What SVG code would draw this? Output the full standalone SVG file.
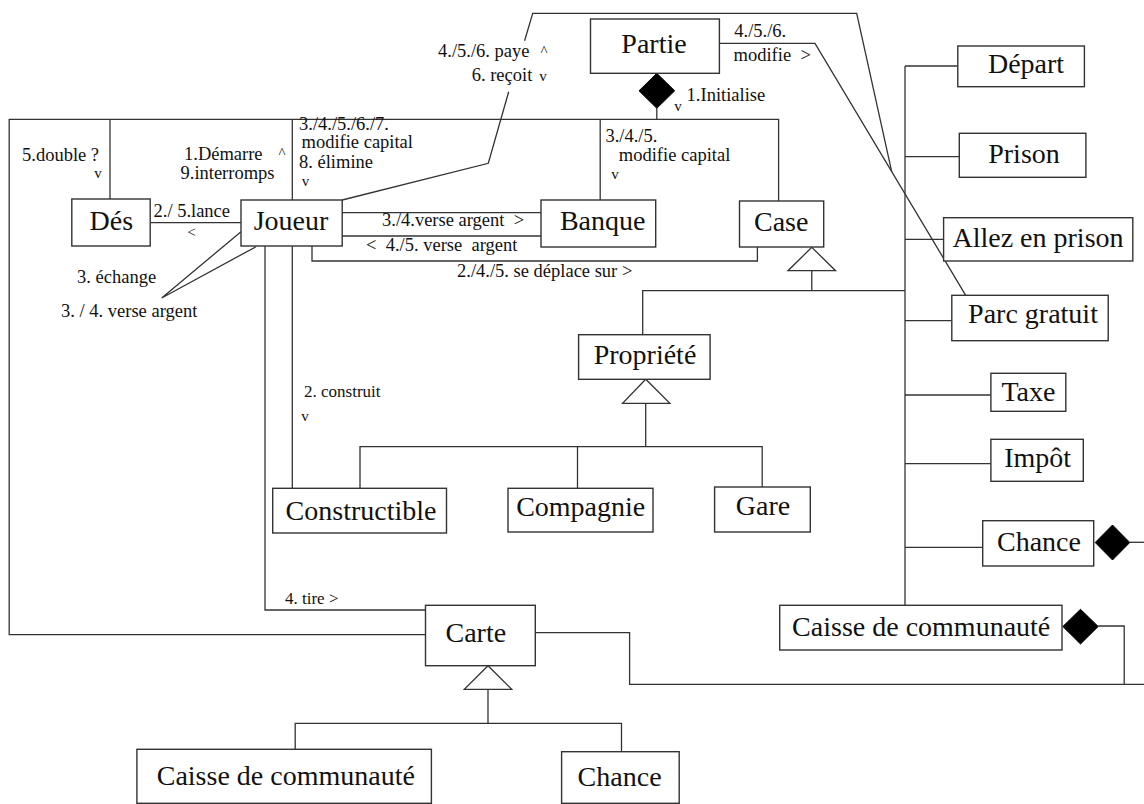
<svg xmlns="http://www.w3.org/2000/svg" width="1144" height="804" viewBox="0 0 1144 804">
<style>
  .box{fill:#fff;stroke:#333;stroke-width:1.4}
  .ln{fill:none;stroke:#333;stroke-width:1.3}
  .tri{fill:#fff;stroke:#333;stroke-width:1.3}
  .dia{fill:#000;stroke:#000;stroke-width:1}
  .nm{font-family:"Liberation Serif","Times New Roman",serif;font-size:28px;fill:#111;text-anchor:middle}
  .lb{font-family:"Liberation Serif","Times New Roman",serif;font-size:18.5px;fill:#111;white-space:pre}
  .ar{font-family:"Liberation Serif","Times New Roman",serif;font-size:15px;fill:#111;text-anchor:middle}
</style>
<rect width="1144" height="804" fill="#fff"/>

<g id="connectors">
  <!-- outer frame from Case around to Carte -->
  <polyline class="ln" points="778.6,201 778.6,119.3 9.2,119.3 9.2,634.7 425.5,634.7"/>
  <line class="ln" x1="110" y1="119.3" x2="110" y2="199"/>
  <line class="ln" x1="292.3" y1="119.3" x2="292.3" y2="200"/>
  <line class="ln" x1="600.2" y1="119.3" x2="600.2" y2="200"/>
  <line class="ln" x1="656.8" y1="108.3" x2="656.8" y2="119.3"/>
  <!-- Dés - Joueur -->
  <line class="ln" x1="150.2" y1="222.7" x2="241" y2="222.7"/>
  <!-- Joueur - Banque -->
  <line class="ln" x1="342.2" y1="212.7" x2="541" y2="212.7"/>
  <line class="ln" x1="342.2" y1="236" x2="541" y2="236"/>
  <!-- Joueur - Case -->
  <polyline class="ln" points="312,246 312,261 757.4,261 757.4,247"/>
  <!-- Joueur self (échange / verse argent) -->
  <polyline class="ln" points="241,231.7 161.7,298 256,246.7"/>
  <!-- Joueur - Constructible -->
  <line class="ln" x1="292.3" y1="246" x2="292.3" y2="488.3"/>
  <!-- Joueur - Carte -->
  <polyline class="ln" points="265,246 265,610 425.5,610"/>
  <!-- Joueur paye / reçoit -->
  <polyline class="ln" points="342.2,200 488.3,163.3 508.7,91.7"/>
  <polyline class="ln" points="524.6,40.7 532.7,13.3 856.7,13.3 891.7,171.7"/>
  <!-- Partie modifie -> Parc gratuit -->
  <polyline class="ln" points="719.4,43.3 815,43.3 965.7,295.3"/>
  <!-- Case generalization -->
  <line class="ln" x1="811.8" y1="270.7" x2="811.8" y2="290.7"/>
  <polyline class="ln" points="642.7,334.7 642.7,290.7 905,290.7"/>
  <polygon class="tri" points="811.8,247.3 788,270.7 835.6,270.7"/>
  <!-- right bus -->
  <line class="ln" x1="905" y1="66" x2="905" y2="605.3"/>
  <line class="ln" x1="905" y1="66" x2="957.8" y2="66"/>
  <line class="ln" x1="905" y1="156.7" x2="959.3" y2="156.7"/>
  <line class="ln" x1="905" y1="239.3" x2="943.6" y2="239.3"/>
  <line class="ln" x1="905" y1="320.7" x2="951.8" y2="320.7"/>
  <line class="ln" x1="905" y1="395" x2="990.9" y2="395"/>
  <line class="ln" x1="905" y1="463.7" x2="990.9" y2="463.7"/>
  <line class="ln" x1="905" y1="547.3" x2="982.7" y2="547.3"/>
  <!-- Propriété generalization -->
  <line class="ln" x1="645.7" y1="403.3" x2="645.7" y2="446.7"/>
  <polyline class="ln" points="360,488.3 360,446.7 762.2,446.7 762.2,487"/>
  <line class="ln" x1="577.5" y1="446.7" x2="577.5" y2="488.3"/>
  <polygon class="tri" points="645.7,379.3 622.6,403.3 669.9,403.3"/>
  <!-- Carte generalization -->
  <line class="ln" x1="488" y1="689.3" x2="488" y2="723.3"/>
  <polyline class="ln" points="295.2,749.3 295.2,723.3 621.5,723.3 621.5,751.7"/>
  <polygon class="tri" points="488,665.7 464.3,689.3 511.7,689.3"/>
  <!-- Carte to right composition -->
  <polyline class="ln" points="535.3,632.7 629.6,632.7 629.6,684.3 1144,684.3"/>
  <polyline class="ln" points="1098.2,626 1124.2,626 1124.2,684.3"/>
  <line class="ln" x1="1129.8" y1="542.3" x2="1144" y2="542.3"/>
  <!-- diamonds -->
  <polygon class="dia" points="656.8,73.3 674.7,90.8 656.8,108.3 639,90.8"/>
  <polygon class="dia" points="1095.2,542.5 1112.5,525 1129.8,542.5 1112.5,560"/>
  <polygon class="dia" points="1062.8,626.5 1080.5,609.3 1098.2,626.5 1080.5,644"/>

  <!-- association labels -->
  <text class="lb" x="22" y="161">5.double ?</text>
  <text class="ar" x="98" y="178">v</text>
  <text class="lb" x="184" y="160">1.Démarre</text>
  <text class="ar" x="282" y="158">^</text>
  <text class="lb" x="180.5" y="178.5">9.interromps</text>
  <text class="lb" x="299" y="129.5">3./4./5./6./7.</text>
  <text class="lb" x="301.5" y="148">modifie capital</text>
  <text class="lb" x="299" y="168">8. élimine</text>
  <text class="ar" x="305.6" y="186">v</text>
  <text class="lb" x="153.5" y="216.5">2./ 5.lance</text>
  <text class="ar" x="191.6" y="237">&lt;</text>
  <text class="lb" x="382" y="226">3./4.verse argent  &gt;</text>
  <text class="lb" x="366" y="250.5">&lt;  4./5. verse  argent</text>
  <text class="lb" x="457" y="276.5">2./4./5. se déplace sur &gt;</text>
  <text class="lb" x="77" y="283">3. échange</text>
  <text class="lb" x="61" y="317">3. / 4. verse argent</text>
  <text class="lb" x="438" y="57">4./5./6. paye</text>
  <text class="ar" x="544" y="56">^</text>
  <text class="lb" x="471.7" y="81">6. reçoit</text>
  <text class="ar" x="543" y="81">v</text>
  <text class="lb" x="686.6" y="101">1.Initialise</text>
  <text class="ar" x="678" y="111">v</text>
  <text class="lb" x="605.4" y="142">3./4./5.</text>
  <text class="lb" x="618.8" y="160.5">modifie capital</text>
  <text class="ar" x="615" y="179">v</text>
  <text class="lb" x="734.3" y="37.3">4./5./6.</text>
  <text class="lb" x="733.6" y="61">modifie  &gt;</text>
  <text class="lb" x="304" y="397" style="font-size:17px">2. construit</text>
  <text class="ar" x="305" y="421">v</text>
  <text class="lb" x="285" y="603.5" style="font-size:17px">4. tire &gt;</text>
</g>

<g id="partie"><rect class="box" x="590.5" y="19" width="128.9" height="54.3"/><text class="nm" x="654" y="53">Partie</text></g>
<g id="des"><rect class="box" x="71.8" y="199" width="78.4" height="47"/><text class="nm" x="111.3" y="230">Dés</text></g>
<g id="joueur"><rect class="box" x="241" y="200" width="101.2" height="46"/><text class="nm" x="291" y="230">Joueur</text></g>
<g id="banque"><rect class="box" x="541" y="200" width="114.7" height="47"/><text class="nm" x="602.7" y="229.5">Banque</text></g>
<g id="case"><rect class="box" x="739.5" y="201" width="84.2" height="46"/><text class="nm" x="781.2" y="230.5">Case</text></g>
<g id="depart"><rect class="box" x="957.8" y="46" width="126.6" height="40.7"/><text class="nm" x="1026" y="73">Départ</text></g>
<g id="prison"><rect class="box" x="959.3" y="133.3" width="126.6" height="44"/><text class="nm" x="1024" y="163">Prison</text></g>
<g id="allez-en-prison"><rect class="box" x="943.6" y="217.7" width="189.2" height="43.3"/><text class="nm" x="1038" y="247">Allez en prison</text></g>
<g id="parc-gratuit"><rect class="box" x="951.8" y="295.3" width="156.4" height="45.4"/><text class="nm" x="1033" y="323">Parc gratuit</text></g>
<g id="propriete"><rect class="box" x="578.6" y="334.7" width="131.5" height="44.6"/><text class="nm" x="645" y="363.5">Propriété</text></g>
<g id="taxe"><rect class="box" x="990.9" y="373.3" width="74.9" height="38"/><text class="nm" x="1028.4" y="400.5">Taxe</text></g>
<g id="impot"><rect class="box" x="990.9" y="439.3" width="92.4" height="42"/><text class="nm" x="1037.7" y="467">Impôt</text></g>
<g id="constructible"><rect class="box" x="272.7" y="488.3" width="173.8" height="44.7"/><text class="nm" x="361" y="519.5">Constructible</text></g>
<g id="compagnie"><rect class="box" x="508" y="488.3" width="145" height="43.7"/><text class="nm" x="580.7" y="515.5">Compagnie</text></g>
<g id="gare"><rect class="box" x="714.6" y="487" width="95.7" height="45"/><text class="nm" x="763" y="514.5">Gare</text></g>
<g id="chance-case"><rect class="box" x="982.7" y="520.7" width="111" height="45.3"/><text class="nm" x="1039" y="550.5">Chance</text></g>
<g id="caisse-case"><rect class="box" x="779.7" y="605.3" width="282.3" height="44.7"/><text class="nm" x="921.2" y="635.5">Caisse de communauté</text></g>
<g id="carte"><rect class="box" x="425.5" y="605.3" width="109.8" height="60.4"/><text class="nm" x="475.8" y="642">Carte</text></g>
<g id="caisse-carte"><rect class="box" x="136.9" y="749.3" width="294.5" height="54"/><text class="nm" x="285.8" y="784.5">Caisse de communauté</text></g>
<g id="chance-carte"><rect class="box" x="561.6" y="751.7" width="117.6" height="51.6"/><text class="nm" x="619.6" y="786">Chance</text></g>
</svg>
